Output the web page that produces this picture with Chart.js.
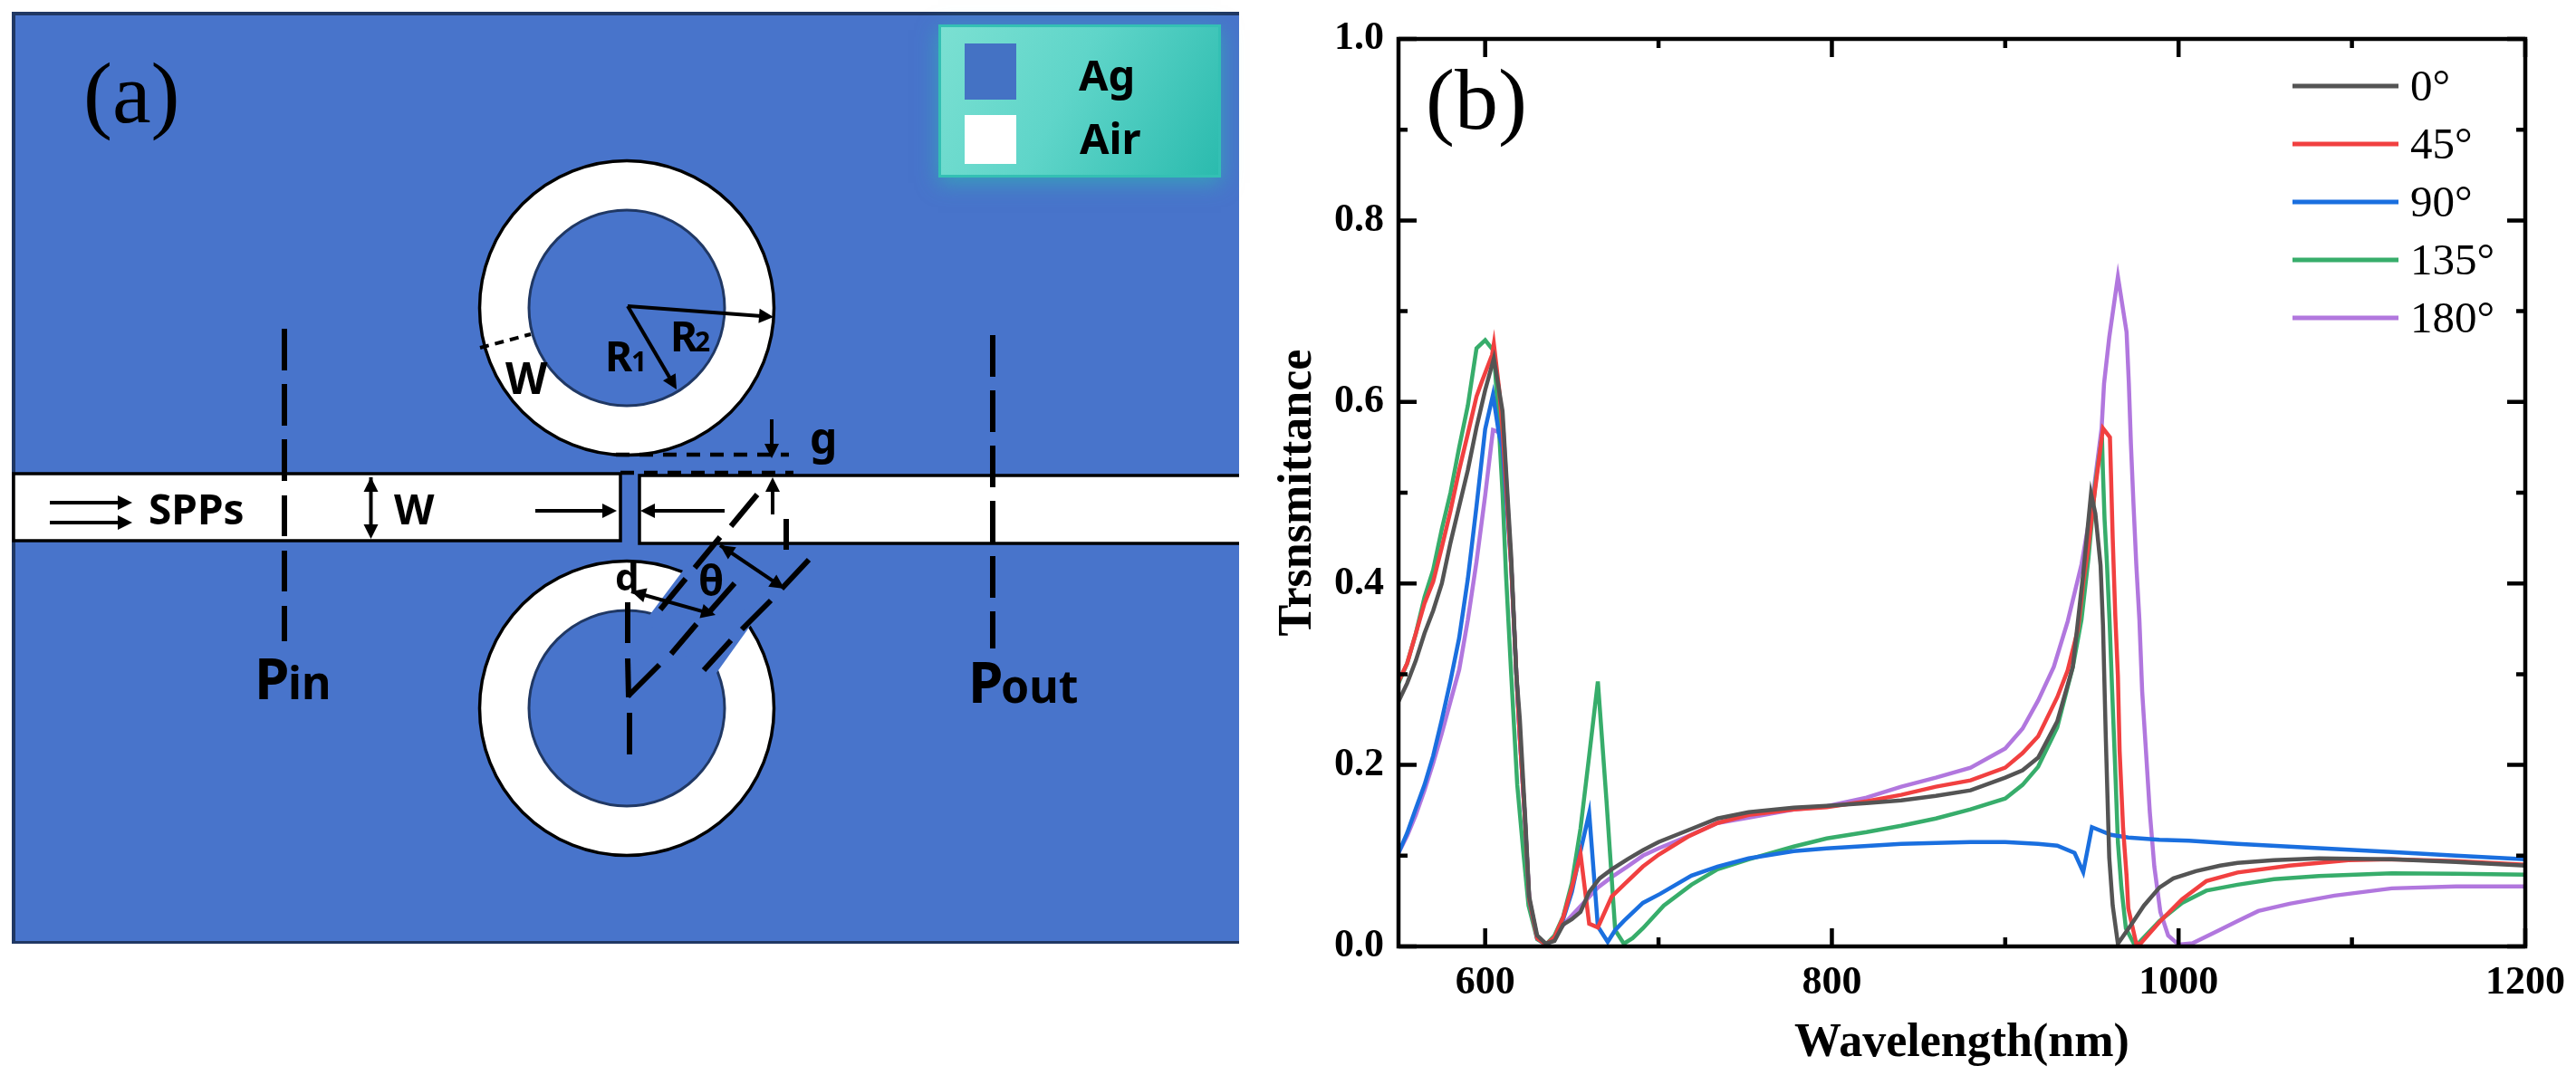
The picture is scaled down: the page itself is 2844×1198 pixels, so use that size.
<html><head>
<meta charset="UTF-8">
<title>Ring resonator schematic and transmittance spectra</title>
<script src="https://cdn.jsdelivr.net/npm/chart.js"></script>
<style>
    body { margin: 0; background: #fff; overflow: hidden; }
    canvas { position: absolute; top: 0; }
    #schematic { left: 0; }
    #spectra { left: 1380px; }
</style>
</head>
<body>
    <canvas id="schematic" width="1380" height="1198"></canvas>
    <canvas id="spectra" width="1464" height="1198"></canvas>

    <script>
        const seriesNames = ['0°', '45°', '90°', '135°', '180°'];
        const seriesColors = ['#545454', '#F14040', '#1A6FDF', '#37AD6B', '#B177DE'];

        const wl0 = [550,555,560,565,570,575,580,585,590,595,600,605,610,615,618,620,623,625.4,630,635,640,645,650,655,660,666,673,682,691,700,717,734,752,778,797,820,840,860,880,900,910,919,930,939,945,949.5,952,955,956.4,958,960,962,965,973,980,989,997,1010,1024,1034,1055,1081,1123,1160,1200];
        const t0 = [.27,.29,.315,.345,.37,.4,.445,.485,.525,.572,.613,.648,.59,.43,.3,.25,.145,.055,.012,.003,.006,.024,.03,.038,.06,.075,.085,.096,.106,.115,.128,.141,.148,.153,.155,.158,.161,.166,.172,.186,.194,.208,.248,.308,.411,.499,.477,.42,.354,.231,.098,.045,.003,.025,.045,.065,.075,.083,.089,.092,.095,.097,.096,.093,.089];

        const wl45 = [550,555,560,565,570,575,580,585,590,595,598,604,605,608,610,615,618,620,622.8,625.4,630,635,640,645,650,655,660,665,673,680,691,700,717,734,752,778,797,820,840,860,880,900,910,919,930,936,942,945,948,951,956.4,960.4,961,962,963.5,965,966,968,970,971,975.6,978,989,1002,1016,1034,1064,1098,1123,1160,1200];
        const t45 = [.292,.312,.345,.378,.402,.44,.48,.525,.565,.606,.622,.652,.664,.615,.57,.42,.3,.23,.145,.052,.009,.002,.01,.032,.065,.102,.025,.021,.055,.068,.088,.101,.121,.136,.145,.151,.1535,.16,.167,.176,.183,.197,.213,.2315,.2745,.304,.35,.401,.441,.491,.571,.561,.521,.45,.364,.298,.215,.13,.078,.042,.003,.003,.027,.052,.072,.0815,.089,.095,.096,.094,.09];

        const wl90 = [550,555,560,565,570,575,580,585,590,595,600,604.5,608,610,615,618,620,622.8,625.4,630,635,640,645,650,655,660,665,670.7,675,680,691,701,719,734,752,778,797,840,880,900,919,930,940,945,950,961,971,989,1006,1034,1123,1160,1200];
        const t90 = [.103,.125,.152,.178,.21,.25,.293,.34,.405,.485,.57,.608,.564,.55,.42,.3,.23,.145,.052,.009,.002,.008,.03,.06,.105,.147,.022,.005,.018,.028,.048,.058,.078,.088,.097,.105,.108,.113,.115,.115,.113,.111,.103,.082,.1315,.123,.12,.1176,.1166,.113,.104,.1,.096];

        const wl135 = [550,555,560,565,570,575,580,585,590,595,600,605,608,610,612,615,618.5,622,625,630,635,640,645,650,655,660,665,670,675,680,685,691,703,719,734,752,778,797,820,840,860,880,900,910,919,930,939,944,948,952,955.8,956.4,957.3,958.7,960.2,961.7,963.4,965,967,969.6,974,976.5,989,1002,1016,1034,1055,1081,1123,1160,1200];
        const t135 = [.29,.312,.345,.385,.415,.46,.5,.55,.596,.659,.668,.656,.569,.5,.41,.3,.178,.104,.045,.008,.002,.012,.033,.07,.13,.21,.292,.16,.018,.003,.009,.02,.045,.068,.085,.096,.11,.119,.126,.133,.141,.151,.163,.178,.198,.2413,.308,.36,.4275,.511,.561,.521,.471,.421,.358,.281,.198,.115,.065,.02,.004,.003,.028,.048,.0615,.068,.074,.0775,.0806,.08,.079];

        const wl180 = [550,555,560,565,570,575,580,585,590,595,600,604.5,610.6,615,618,620,622.8,625.4,630,635,638.5,647,656,665,673,682,691,700,717,734,752,778,797,820,840,860,880,900,910,919,928,936,944,950,955.6,957,960,965,970,971.3,972.5,974,975.6,977.4,979,981,983.4,986,989.5,994,1000,1008,1023.5,1034,1046,1064,1090,1123,1160,1200];
        const t180 = [.103,.122,.145,.172,.202,.235,.27,.305,.36,.424,.497,.569,.565,.42,.3,.23,.145,.052,.009,.002,.008,.028,.0465,.065,.0765,.088,.1,.108,.1214,.136,.142,.151,.1545,.164,.176,.186,.197,.218,.24,.271,.308,.358,.421,.487,.571,.62,.671,.738,.677,.621,.554,.487,.421,.36,.281,.221,.148,.088,.038,.012,.002,.0035,.018,.028,.039,.047,.056,.064,.066,.066];

        const xMajorTicks = [600, 800, 1000, 1200];
        const xMinorTicks = [700, 900, 1100];
        const yMajorTicks = [0, 0.2, 0.4, 0.6, 0.8, 1.0];
        const yMinorTicks = [0.1, 0.3, 0.5, 0.7, 0.9];

        const wavelengths = [wl0, wl45, wl90, wl135, wl180];
        const transmittances = [t0, t45, t90, t135, t180];

        const serif = '"Liberation Serif", serif';
        const sans = '"Noto Sans", sans-serif';

        // frame with inward ticks on all four sides + the legend
        const framePlugin = {
            id: 'frame',
            afterDatasetsDraw(chart) {
                const ctx = chart.ctx, a = chart.chartArea;
                const xs = chart.scales.x, ys = chart.scales.y;
                ctx.save();
                ctx.strokeStyle = '#000';
                ctx.lineWidth = 4.5;
                ctx.strokeRect(a.left, a.top, a.right - a.left, a.bottom - a.top);
                const xTick = (v, len) => {
                    const p = xs.getPixelForValue(v);
                    ctx.beginPath();
                    ctx.moveTo(p, a.bottom); ctx.lineTo(p, a.bottom - len);
                    ctx.moveTo(p, a.top); ctx.lineTo(p, a.top + len);
                    ctx.stroke();
                };
                const yTick = (v, len) => {
                    const p = ys.getPixelForValue(v);
                    ctx.beginPath();
                    ctx.moveTo(a.left, p); ctx.lineTo(a.left + len, p);
                    ctx.moveTo(a.right, p); ctx.lineTo(a.right - len, p);
                    ctx.stroke();
                };
                xMajorTicks.forEach(v => xTick(v, 20));
                xMinorTicks.forEach(v => xTick(v, 10));
                yMajorTicks.forEach(v => yTick(v, 20));
                yMinorTicks.forEach(v => yTick(v, 10));

                ctx.font = '96px ' + serif;
                ctx.fillStyle = '#000';
                ctx.fillText('(b)', 194, 142);

                ctx.font = '49px ' + serif;
                seriesNames.forEach((name, i) => {
                    const y = 95 + i * 64;
                    ctx.strokeStyle = seriesColors[i];
                    ctx.lineWidth = 5;
                    ctx.beginPath();
                    ctx.moveTo(1151, y); ctx.lineTo(1268, y);
                    ctx.stroke();
                    ctx.fillText(name, 1281, y + 16);
                });
                ctx.restore();
            }
        };

        new Chart(document.getElementById('spectra'), {
            type: 'scatter',
            data: {
                datasets: seriesNames.map((name, i) => ({
                    label: name,
                    data: wavelengths[i].map((w, j) => ({ x: w, y: transmittances[i][j] })),
                    showLine: true,
                    borderColor: seriesColors[i],
                    borderWidth: 4.5,
                    pointRadius: 0,
                    tension: 0
                }))
            },
            options: {
                responsive: false,
                animation: false,
                layout: { padding: { left: 0, right: 56, top: 43, bottom: 0 } },
                plugins: { legend: { display: false }, tooltip: { enabled: false } },
                scales: {
                    x: {
                        type: 'linear',
                        min: 550,
                        max: 1200,
                        afterBuildTicks: s => { s.ticks = xMajorTicks.map(v => ({ value: v })); },
                        afterFit: s => { s.height = 153; s.paddingRight = 0; },
                        grid: { display: false, drawTicks: false },
                        border: { display: false },
                        ticks: { color: '#000', padding: 14, maxRotation: 0, callback: v => String(v), font: { family: serif, size: 44, weight: 'bold' } },
                        title: { display: true, text: 'Wavelength(nm)', color: '#000', padding: { top: 0, bottom: 14 }, font: { family: serif, size: 52, weight: 'bold' } }
                    },
                    y: {
                        min: 0,
                        max: 1,
                        afterBuildTicks: s => { s.ticks = yMajorTicks.map(v => ({ value: v })); },
                        afterFit: s => { s.width = 164; },
                        grid: { display: false, drawTicks: false },
                        border: { display: false },
                        ticks: { color: '#000', padding: 16, callback: v => v.toFixed(1), font: { family: serif, size: 44, weight: 'bold' } },
                        title: { display: true, text: 'Trsnsmittance', color: '#000', padding: { top: 22, bottom: 0 }, font: { family: serif, size: 52, weight: 'bold' } }
                    }
                }
            },
            plugins: [framePlugin]
        });

        // ---- panel (a) ----
        const AG_BLUE = '#4874CB', NAVY = '#203864';

        function seg(ctx, x1, y1, x2, y2) {
            ctx.beginPath();
            ctx.moveTo(x1, y1);
            ctx.lineTo(x2, y2);
            ctx.stroke();
        }

        function head(ctx, x, y, ang, len, hw) {
            ctx.beginPath();
            ctx.moveTo(x, y);
            ctx.lineTo(x - len * Math.cos(ang) - hw * Math.sin(ang), y - len * Math.sin(ang) + hw * Math.cos(ang));
            ctx.lineTo(x - len * Math.cos(ang) + hw * Math.sin(ang), y - len * Math.sin(ang) - hw * Math.cos(ang));
            ctx.closePath();
            ctx.fill();
        }

        function arrow(ctx, x1, y1, x2, y2, both) {
            const ang = Math.atan2(y2 - y1, x2 - x1);
            seg(ctx, x1, y1, x2 - 10 * Math.cos(ang), y2 - 10 * Math.sin(ang));
            head(ctx, x2, y2, ang, 16, 8);
            if (both) head(ctx, x1, y1, ang + Math.PI, 16, 8);
        }

        function ring(ctx, cx, cy) {
            ctx.beginPath();
            ctx.arc(cx, cy, 162.5, 0, Math.PI * 2);
            ctx.fillStyle = '#fff';
            ctx.fill();
            ctx.strokeStyle = '#000';
            ctx.lineWidth = 3.5;
            ctx.stroke();
            ctx.beginPath();
            ctx.arc(cx, cy, 108, 0, Math.PI * 2);
            ctx.fillStyle = AG_BLUE;
            ctx.fill();
            ctx.strokeStyle = NAVY;
            ctx.lineWidth = 3;
            ctx.stroke();
        }

        function label(ctx, text, x, y, size) {
            ctx.font = 'bold ' + size + 'px ' + sans;
            ctx.fillText(text, x, y);
        }

        const schematicPlugin = {
            id: 'schematic',
            beforeDraw(chart) {
                const ctx = chart.ctx;
                ctx.save();

                // substrate
                ctx.fillStyle = AG_BLUE;
                ctx.fillRect(13, 13, 1355, 1029);
                ctx.fillStyle = NAVY;
                ctx.fillRect(13, 13, 1355, 4);
                ctx.fillRect(13, 13, 4, 1029);
                ctx.fillRect(13, 1039, 1355, 3);

                // waveguide, broken by the gap
                ctx.fillStyle = '#fff';
                ctx.fillRect(15, 523, 670, 74);
                ctx.fillRect(706, 525, 662, 75);
                ctx.strokeStyle = '#000';
                ctx.lineWidth = 3.5;
                ctx.beginPath();
                ctx.moveTo(15, 597); ctx.lineTo(15, 523); ctx.lineTo(685, 523); ctx.lineTo(685, 597); ctx.closePath();
                ctx.stroke();
                ctx.beginPath();
                ctx.moveTo(1368, 525); ctx.lineTo(706, 525); ctx.lineTo(706, 600); ctx.lineTo(1368, 600);
                ctx.stroke();

                ring(ctx, 692, 340);
                ring(ctx, 692, 782);

                // notch cut into the lower ring
                ctx.fillStyle = AG_BLUE;
                ctx.beginPath();
                ctx.moveTo(712, 686); ctx.lineTo(760, 622); ctx.lineTo(834, 683); ctx.lineTo(786, 750);
                ctx.closePath();
                ctx.fill();

                // long dashes
                ctx.strokeStyle = '#000';
                ctx.lineWidth = 6;
                [
                    [314, 363, 409], [314, 424, 470], [314, 485, 531], [314, 547, 592], [314, 608, 653], [314, 669, 708],
                    [1096, 370, 416], [1096, 431, 477], [1096, 492, 538], [1096, 553, 599], [1096, 614, 660], [1096, 675, 716]
                ].forEach(d => seg(ctx, d[0], d[1], d[0], d[2]));

                [
                    [836, 546, 807, 581], [795, 593, 767, 627], [757, 639, 729, 673],
                    [693, 769, 728, 734], [769, 689, 741, 722], [811, 644, 782, 677],
                    [893, 618, 863, 650], [851, 663, 819, 695], [807, 707, 777, 740],
                    [693, 665, 693, 710], [693, 727, 694, 770], [695, 787, 695, 833],
                    [868, 573, 868, 607]
                ].forEach(s => seg(ctx, s[0], s[1], s[2], s[3]));

                // g marker dashes
                ctx.lineWidth = 4.5;
                ctx.setLineDash([15, 11]);
                seg(ctx, 680, 502, 871, 502);
                seg(ctx, 685, 522, 876, 522);
                ctx.setLineDash([10, 7]);
                ctx.lineWidth = 4;
                seg(ctx, 530, 384, 586, 369);
                ctx.setLineDash([]);

                // arrows
                ctx.fillStyle = '#000';
                ctx.lineWidth = 4;
                arrow(ctx, 55, 555, 146, 555);
                arrow(ctx, 55, 577, 146, 577);
                arrow(ctx, 409.5, 527, 409.5, 595, true);
                arrow(ctx, 591, 564, 681, 564);
                arrow(ctx, 800, 564, 707, 564);
                arrow(ctx, 852, 463, 852, 506);
                arrow(ctx, 853, 568, 853, 527);
                arrow(ctx, 697, 653, 790, 679, true);
                arrow(ctx, 795, 602, 866, 650, true);
                arrow(ctx, 693, 338, 854, 350);
                arrow(ctx, 693, 338, 747, 430);

                // labels
                label(ctx, 'SPPs', 164, 579, 46);
                label(ctx, 'W', 435, 579, 46);
                label(ctx, 'W', 558, 435, 48);
                label(ctx, 'R', 668, 410, 46);
                label(ctx, '1', 697, 410, 30);
                label(ctx, 'R', 740, 388, 46);
                label(ctx, '2', 767, 388, 30);
                label(ctx, 'g', 894, 501, 48);
                label(ctx, 'd', 679, 652, 42);
                label(ctx, 'θ', 771, 658, 46);
                label(ctx, 'P', 281, 772, 62);
                label(ctx, 'in', 318, 772, 50);
                label(ctx, 'P', 1069, 776, 62);
                label(ctx, 'out', 1105, 776, 50);

                ctx.font = '96px ' + serif;
                ctx.fillText('(a)', 92, 135);

                // material key
                ctx.save();
                ctx.shadowColor = 'rgba(45,190,175,0.6)';
                ctx.shadowBlur = 22;
                ctx.shadowOffsetY = 6;
                ctx.fillStyle = '#34C0B4';
                ctx.fillRect(1036, 27, 312, 169);
                ctx.restore();
                const grad = ctx.createLinearGradient(1039, 30, 1345, 193);
                grad.addColorStop(0, '#7BE0D2');
                grad.addColorStop(0.45, '#5FD5C9');
                grad.addColorStop(1, '#2BBBAE');
                ctx.fillStyle = grad;
                ctx.fillRect(1039, 30, 306, 163);
                ctx.fillStyle = '#4472C4';
                ctx.fillRect(1065, 48, 57, 62);
                ctx.fillStyle = '#fff';
                ctx.fillRect(1065, 127, 57, 54);
                ctx.fillStyle = '#000';
                label(ctx, 'Ag', 1191, 100, 47);
                label(ctx, 'Air', 1192, 170, 47);

                ctx.restore();
            }
        };

        new Chart(document.getElementById('schematic'), {
            type: 'scatter',
            data: { datasets: [] },
            options: {
                responsive: false,
                animation: false,
                plugins: { legend: { display: false }, tooltip: { enabled: false } },
                scales: { x: { display: false }, y: { display: false } }
            },
            plugins: [schematicPlugin]
        });
    </script>
</body>
</html>
